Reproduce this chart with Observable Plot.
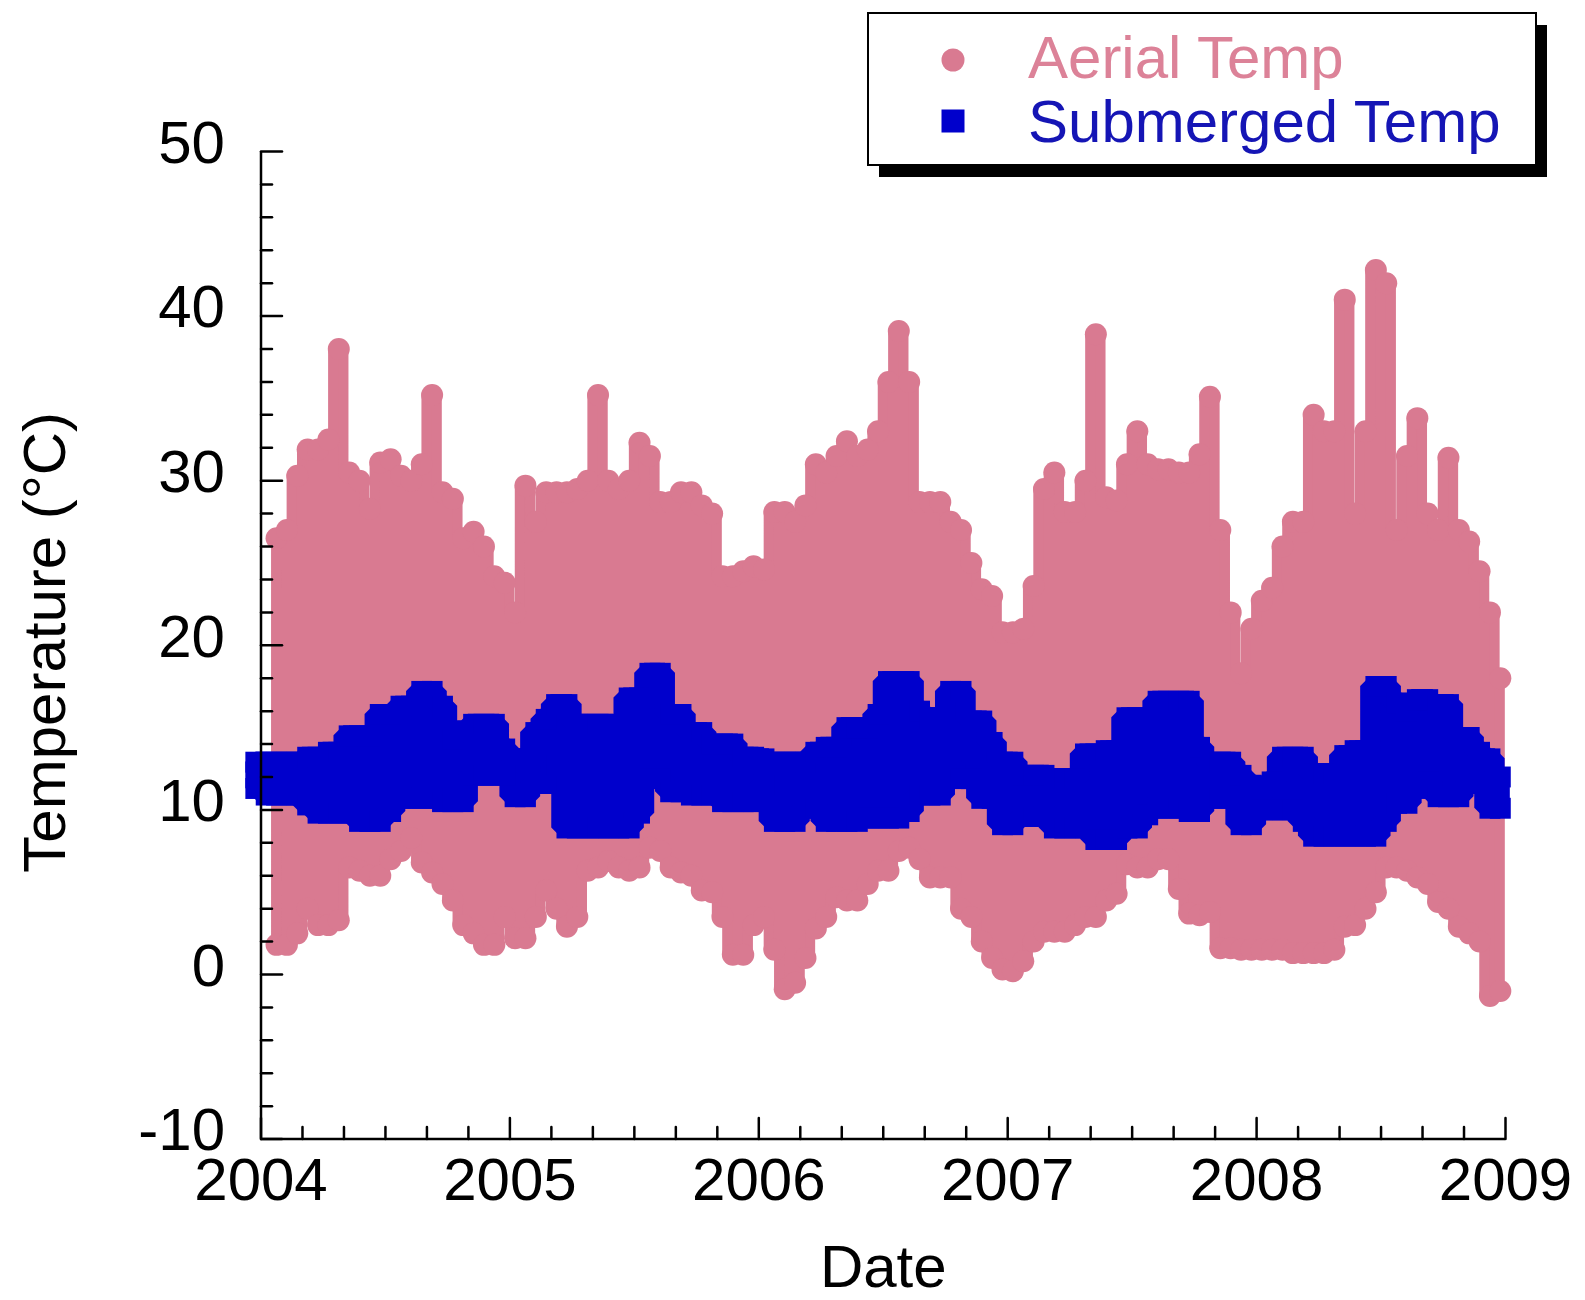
<!DOCTYPE html>
<html>
<head>
<meta charset="utf-8">
<script src="https://cdn.jsdelivr.net/npm/d3@7"></script>
<script src="https://cdn.jsdelivr.net/npm/@observablehq/plot@0.6"></script>
<style>
  body { margin: 0; background: #fff; }
  #wrap { position: relative; width: 1585px; height: 1300px; overflow: hidden; }
  #wrap svg { position: absolute; left: 0; top: 0; }
</style>
</head>
<body>
<div id="wrap"></div>
<script>
// ---- Data (half-month bins, °C) ----
const years = [2004, 2005, 2006, 2007, 2008];
const binsPerYear = 24;

// Aerial temperature: lowest and highest reading in each half-month bin
const aerialHigh2004 = [null, 26.5, 27, 30.3, 31.9, 31.9, 32.5, 38.0, 30.5, 30, 28.3, 31.1, 31.3, 30.3, 30, 31, 35.2, 29.3, 28.9, 26.5, 26.9, 26, 24.2, 23.8];
const aerialLow2004  = [null, 1.8, 1.8, 2.5, 4.0, 3.0, 3.0, 3.3, 6.5, 6.3, 6.0, 6.0, 7.0, 7.5, 8.3, 6.8, 6.2, 5.5, 4.5, 3.0, 2.5, 1.8, 1.8, 3.5];
const aerialHigh2005 = [22, 29.7, 27.5, 29.3, 29.3, 29.3, 29.5, 30, 35.2, 30, 29.5, 30, 32.3, 31.5, 28.7, 28.7, 29.3, 29.3, 28.5, 28, 24.2, 24.2, 24.5, 24.8];
const aerialLow2005  = [2.2, 2.2, 3.5, 5.1, 4.0, 2.9, 3.5, 6.3, 6.5, 6.9, 6.5, 6.3, 6.5, 7.7, 7.5, 6.5, 6.2, 6.0, 5.1, 5.0, 3.5, 1.2, 1.2, 3.0];
const aerialHigh2006 = [24.6, 28.1, 28.1, 27.5, 28.5, 31.0, 30.5, 31.5, 32.4, 31.5, 31.9, 33, 36, 39.1, 36, 28.7, 28.7, 28.7, 27.5, 27.0, 25, 23.4, 23, 20.8];
const aerialLow2006  = [3.5, 1.5, -0.9, -0.5, 1.0, 2.8, 3.5, 4.7, 4.5, 4.5, 5.5, 6.3, 6.3, 7.5, 7.7, 7.0, 5.9, 5.9, 5.9, 4.0, 3.5, 2.0, 1.0, 0.3];
const aerialHigh2007 = [20.8, 21, 23.6, 29.5, 30.5, 28.1, 28.1, 30, 38.9, 29, 28.8, 31, 33.0, 31, 30.7, 30.7, 30.5, 30.5, 31.6, 35.1, 27, 22, 18.3, 21];
const aerialLow2007  = [0.2, 0.8, 2.0, 2.6, 2.6, 2.6, 3.0, 3.5, 3.5, 4.5, 4.9, 6.7, 6.5, 6.5, 7.0, 7.0, 5.2, 3.7, 3.6, 3.8, 1.6, 1.6, 1.5, 1.5];
const aerialHigh2008 = [22.7, 23.5, 26, 27.5, 27.5, 34.0, 33, 33, 41.0, 28, 33, 42.8, 42, 27, 31.5, 33.8, 28, 27, 31.4, 27, 26.3, 24.5, 22, 18];
const aerialLow2008  = [1.5, 1.5, 1.5, 1.3, 1.3, 1.3, 1.3, 1.5, 2.9, 3.0, 4.0, 5.0, 6.5, 6.5, 6.3, 5.9, 5.5, 4.4, 4.0, 2.9, 2.5, 2.0, -1.3, -1.0];

// Submerged temperature: lowest and highest reading in each half-month bin
const submergedLead = {year: 2003, bin: 23, low: 11.3, high: 12.9}; // last bin of Dec 2003
const submergedHigh2004 = [12.9, 12.9, 12.9, 12.9, 13.2, 13.2, 13.5, 13.5, 14.5, 14.5, 14.5, 15.8, 15.8, 16.3, 16.3, 17.2, 17.2, 16.3, 14.3, 14.8, 15.2, 15.2, 15.2, 13.7];
const submergedLow2004  = [10.9, 10.9, 10.9, 10.9, 10.3, 9.8, 9.8, 9.8, 9.8, 9.3, 9.3, 9.3, 9.9, 10.7, 10.7, 10.7, 10.7, 10.5, 10.5, 10.5, 12.1, 12.1, 12.1, 12.1];
const submergedHigh2005 = [13.1, 13.1, 14.7, 15.5, 16.4, 16.4, 15.2, 15.2, 15.2, 15.2, 14.7, 16.8, 16.8, 18.3, 18.3, 15.8, 15.8, 14.7, 14.7, 14.0, 14.0, 14.0, 13.2, 13.2];
const submergedLow2005  = [10.8, 10.8, 11.6, 11.6, 12.7, 8.9, 8.9, 8.9, 8.9, 8.9, 8.9, 8.9, 9.8, 11.9, 11.9, 11.1, 11.1, 10.9, 10.9, 10.9, 10.5, 10.5, 10.5, 10.5];
const submergedHigh2006 = [13.1, 12.9, 12.9, 12.9, 12.9, 13.5, 13.8, 13.8, 15.0, 15.0, 15.0, 15.8, 17.8, 17.8, 17.8, 16.0, 15.6, 15.6, 17.2, 17.2, 15.4, 15.4, 14.1, 12.9];
const submergedLow2006  = [11.5, 9.3, 9.3, 9.3, 10.1, 10.1, 9.3, 9.3, 9.3, 9.3, 9.5, 9.5, 9.5, 9.5, 9.9, 10.9, 10.9, 10.9, 12.7, 11.9, 11.9, 10.7, 10.7, 9.1];
const submergedHigh2007 = [12.9, 12.1, 12.1, 12.1, 11.9, 11.9, 11.9, 13.4, 13.4, 13.6, 13.6, 15.6, 15.6, 15.6, 16.6, 16.6, 16.6, 16.6, 13.8, 12.9, 12.9, 12.9, 12.1, 11.5];
const submergedLow2007  = [9.1, 9.6, 9.6, 9.6, 8.9, 8.9, 8.9, 8.9, 8.2, 8.2, 8.2, 8.9, 8.9, 9.7, 10.1, 10.1, 10.1, 9.9, 9.9, 10.7, 10.7, 10.7, 9.1, 9.1];
const submergedHigh2008 = [11.4, 11.7, 13.2, 13.2, 13.2, 12.2, 12.2, 12.2, 13.3, 13.6, 13.6, 17.5, 17.5, 16.5, 16.0, 16.7, 16.7, 16.4, 16.4, 14.4, 14.4, 13.5, 13.1, 12.0];
const submergedLow2008  = [10.0, 10.0, 10.0, 10.0, 9.3, 8.4, 8.4, 8.4, 8.4, 8.4, 8.4, 8.4, 9.3, 10.4, 10.4, 11.3, 11.7, 10.8, 10.8, 10.8, 11.6, 11.6, 10.1, 10.1];

// Axis ticks and labels
const xTickLabels = [2004, 2005, 2006, 2007, 2008, 2009];
const yTickLabels = [-10, 0, 10, 20, 30, 40, 50];
const xTitle = "Date";
const yTitle = "Temperature (°C)";
const seriesNames = ["Aerial Temp", "Submerged Temp"];

// ---- Build tables ----
const aerialHigh = [aerialHigh2004, aerialHigh2005, aerialHigh2006, aerialHigh2007, aerialHigh2008];
const aerialLow = [aerialLow2004, aerialLow2005, aerialLow2006, aerialLow2007, aerialLow2008];
const submergedHigh = [submergedHigh2004, submergedHigh2005, submergedHigh2006, submergedHigh2007, submergedHigh2008];
const submergedLow = [submergedLow2004, submergedLow2005, submergedLow2006, submergedLow2007, submergedLow2008];

function binRows(lows, highs) {
  const rows = [];
  years.forEach((yr, k) => {
    highs[k].forEach((h, i) => {
      rows.push({x: yr + (i + 0.5) / binsPerYear, lo: lows[k][i], hi: h});
    });
  });
  return rows;
}
const aerial = binRows(aerialLow, aerialHigh);
const submerged = [{x: submergedLead.year + (submergedLead.bin + 0.5) / binsPerYear, lo: submergedLead.low, hi: submergedLead.high}]
  .concat(binRows(submergedLow, submergedHigh));

const yMinor = d3.range(-10, 50.01, 2).filter(v => v % 10 !== 0);
const xMinor = d3.range(0, 30).map(k => 2004 + k / 6).filter((v, k) => k % 6 !== 0);

const PINK = "#d97a91";
const BLUE = "#0000cc";
const FONT = "'Liberation Sans', Arial, Helvetica, sans-serif";
const tickShape = {draw(ctx, l) { ctx.moveTo(0, 0); ctx.lineTo(0, -l); }};

const chart = Plot.plot({
  width: 1585,
  height: 1300,
  marginLeft: 260.5,
  marginRight: 80,
  marginTop: 151,
  marginBottom: 161.4,
  x: {domain: [2004, 2009]},
  y: {domain: [-10, 50]},
  style: {fontFamily: FONT, fontSize: "60px", background: "white", color: "black", overflow: "visible"},
  marks: [
    // Aerial (band of markers: outlined step band plus round markers at the extremes)
    Plot.areaY(aerial, {x: "x", y1: "lo", y2: "hi", curve: "step", fill: PINK, stroke: PINK, strokeWidth: 10, strokeLinejoin: "round"}),
    Plot.dot(aerial, {x: "x", y: "hi", r: 11, fill: PINK}),
    Plot.dot(aerial, {x: "x", y: "lo", r: 11, fill: PINK}),
    // Submerged (square markers)
    Plot.areaY(submerged, {x: "x", y1: "lo", y2: "hi", curve: "step", fill: BLUE, stroke: BLUE, strokeWidth: 20, strokeLinejoin: "miter"}),
    Plot.dot(submerged, {x: "x", y: "hi", r: 11.8, symbol: "square", fill: BLUE}),
    Plot.dot(submerged, {x: "x", y: "lo", r: 11.8, symbol: "square", fill: BLUE}),
    // Axis lines
    Plot.ruleX([2004], {y1: -10, y2: 50, stroke: "black", strokeWidth: 2.5}),
    Plot.ruleY([-10], {x1: 2004, x2: 2009, stroke: "black", strokeWidth: 2.5}),
    // Inward ticks
    Plot.vector(yTickLabels, {x: 2004, y: d => d, length: 21, rotate: 90, anchor: "start", shape: tickShape, stroke: "black", strokeWidth: 2.5}),
    Plot.vector(yMinor, {x: 2004, y: d => d, length: 11, rotate: 90, anchor: "start", shape: tickShape, stroke: "black", strokeWidth: 2.5}),
    Plot.vector(xTickLabels, {x: d => d, y: -10, length: 21, rotate: 0, anchor: "start", shape: tickShape, stroke: "black", strokeWidth: 2.5}),
    Plot.vector(xMinor, {x: d => d, y: -10, length: 12, rotate: 0, anchor: "start", shape: tickShape, stroke: "black", strokeWidth: 2.5}),
    // Tick labels
    Plot.axisY({ticks: yTickLabels, tickFormat: d => String(d), tickSize: 0, tickPadding: 36, dy: -8, label: null, fontSize: 60}),
    Plot.axisX({ticks: xTickLabels, tickFormat: d => String(d), tickSize: 0, tickPadding: 18, label: null, fontSize: 60}),
    // Titles
    Plot.text([yTitle], {frameAnchor: "left", textAnchor: "middle", lineAnchor: "middle", dx: -215, dy: -3, rotate: -90, fontSize: 60, fill: "black"}),
    Plot.text([xTitle], {frameAnchor: "bottom", textAnchor: "middle", lineAnchor: "middle", dy: 129, fontSize: 60, fill: "black"})
  ]
});
document.getElementById("wrap").appendChild(chart);

// ---- Legend ----
const ns = "http://www.w3.org/2000/svg";
const lg = document.createElementNS(ns, "svg");
lg.setAttribute("width", 1585);
lg.setAttribute("height", 200);
lg.style.pointerEvents = "none";
function el(tag, attrs, text) {
  const e = document.createElementNS(ns, tag);
  for (const k in attrs) e.setAttribute(k, attrs[k]);
  if (text) e.textContent = text;
  lg.appendChild(e);
  return e;
}
el("rect", {x: 879, y: 25, width: 668, height: 152, fill: "black"});
el("rect", {x: 868, y: 13, width: 668, height: 152, fill: "white", stroke: "black", "stroke-width": 2});
el("circle", {cx: 953, cy: 60, r: 11.5, fill: PINK});
el("rect", {x: 941.5, y: 109.5, width: 23, height: 23, fill: BLUE});
el("text", {x: 1028, y: 78, fill: "#dc8298", "font-family": FONT, "font-size": 60}, seriesNames[0]);
el("text", {x: 1028, y: 142, fill: "#1515b5", "font-family": FONT, "font-size": 60}, seriesNames[1]);
document.getElementById("wrap").appendChild(lg);
</script>
</body>
</html>
